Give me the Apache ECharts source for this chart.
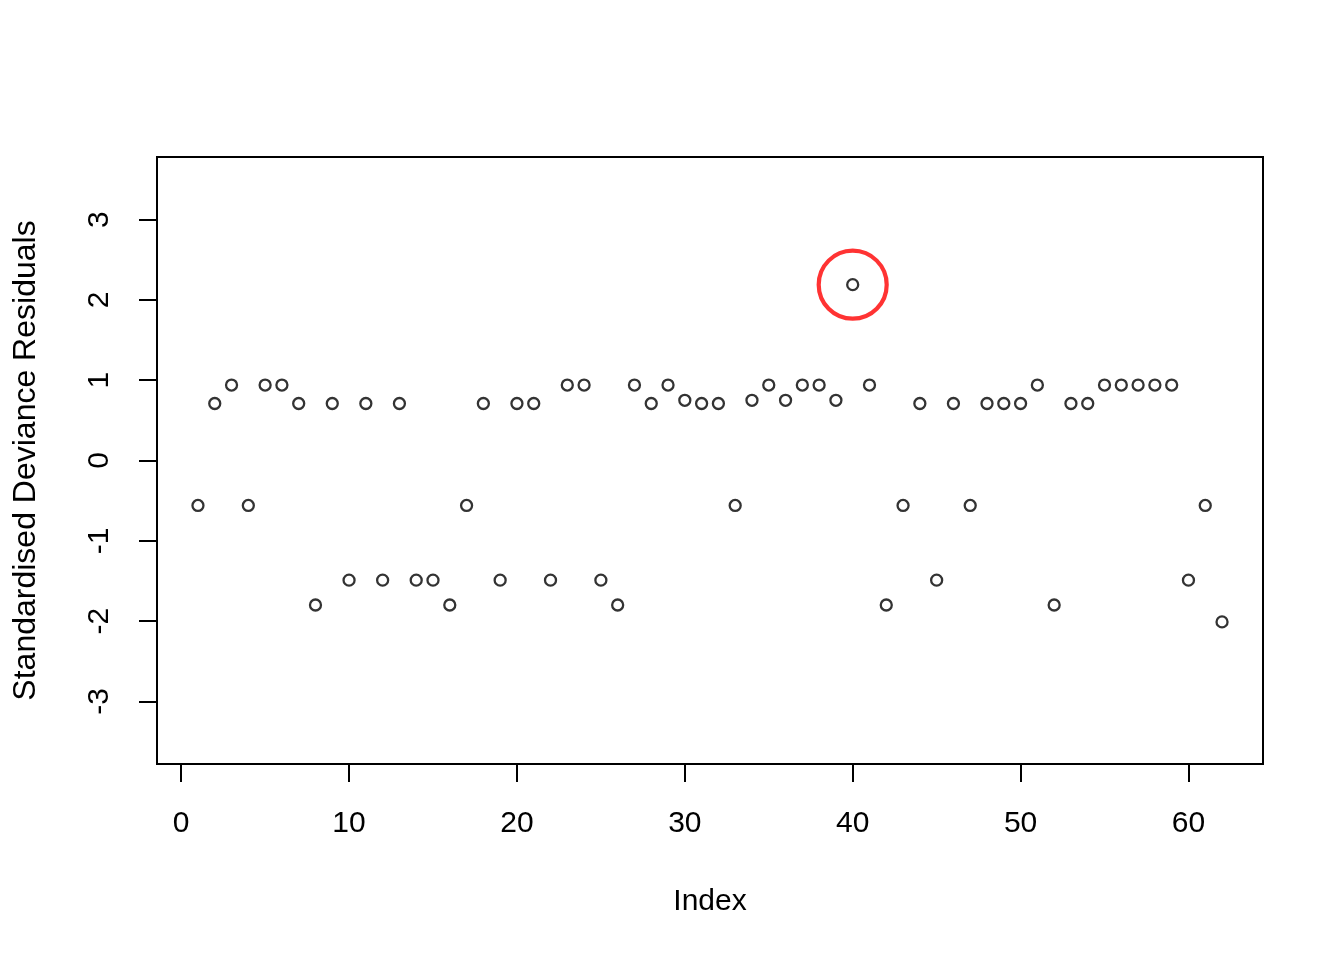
<!DOCTYPE html>
<html><head><meta charset="utf-8">
<script src="https://cdn.jsdelivr.net/npm/echarts@6/dist/echarts.min.js"></script>
<style>html,body{margin:0;padding:0;background:#fff}#c{width:1344px;height:960px}</style>
</head><body><div id="c"></div>
<script>
const indexValues = [1,2,3,4,5,6,7,8,9,10,11,12,13,14,15,16,17,18,19,20,21,22,23,24,25,26,27,28,29,30,31,32,33,34,35,36,37,38,39,40,41,42,43,44,45,46,47,48,49,50,51,52,53,54,55,56,57,58,59,60,61,62];
const residuals = [
 -0.56, 0.71, 0.94,-0.56, 0.94, 0.94, 0.71,-1.80, 0.71,-1.49,
  0.71,-1.49, 0.71,-1.49,-1.49,-1.80,-0.56, 0.71,-1.49, 0.71,
  0.71,-1.49, 0.94, 0.94,-1.49,-1.80, 0.94, 0.71, 0.94, 0.75,
  0.71, 0.71,-0.56, 0.75, 0.94, 0.75, 0.94, 0.94, 0.75, 2.19,
  0.94,-1.80,-0.56, 0.71,-1.49, 0.71,-0.56, 0.71, 0.71, 0.71,
  0.94,-1.80, 0.71, 0.71, 0.94, 0.94, 0.94, 0.94, 0.94,-1.49,
 -0.56,-2.01];
const xTicks = [0,10,20,30,40,50,60];
const yTicks = [-3,-2,-1,0,1,2,3];
const highlightIndex = [40];
const xLabel = 'Index';
const yLabel = 'Standardised Deviance Residuals';

const pts = indexValues.map((x,i)=>[x, residuals[i]]);
const hl = highlightIndex.map(x=>[x, residuals[x-1]]);
const font = 'Liberation Sans, Arial, sans-serif';

const chart = echarts.init(document.getElementById('c'), null, {renderer:'canvas'});
chart.setOption({
  animation:false,
  backgroundColor:'#fff',
  grid:{left:157,right:81,top:157,bottom:196,show:true,borderColor:'#000',borderWidth:2,backgroundColor:'transparent'},
  xAxis:{type:'value',min:-1.44,max:64.44,position:'bottom',
    name:xLabel,nameLocation:'middle',nameGap:123,
    nameTextStyle:{fontFamily:font,fontSize:30,color:'#000'},
    axisLine:{show:false,onZero:false},
    splitLine:{show:false},
    axisTick:{show:true,inside:false,length:18,lineStyle:{color:'#000',width:2},customValues:xTicks},
    axisLabel:{show:true,margin:45,fontFamily:font,fontSize:30,color:'#000',customValues:xTicks,formatter:v=>String(v)}
  },
  yAxis:{type:'value',min:-3.78,max:3.78,position:'left',
    name:yLabel,nameLocation:'middle',nameGap:115,nameRotate:90,
    nameTextStyle:{fontFamily:font,fontSize:32,color:'#000'},
    axisLine:{show:false,onZero:false},
    splitLine:{show:false},
    axisTick:{show:true,inside:false,length:18,lineStyle:{color:'#000',width:2},customValues:yTicks},
    axisLabel:{show:true,margin:42,rotate:90,fontFamily:font,fontSize:30,color:'#000',customValues:yTicks,formatter:v=>String(v)}
  },
  series:[
    {type:'scatter',data:pts,symbol:'circle',symbolSize:11,
     itemStyle:{color:'#fff',borderColor:'#000',borderWidth:2.3},z:2},
    {type:'scatter',data:hl,symbol:'circle',symbolSize:68,
     itemStyle:{color:'transparent',borderColor:'#ff0000',borderWidth:4.2},z:3,silent:true}
  ]
});
</script></body></html>
